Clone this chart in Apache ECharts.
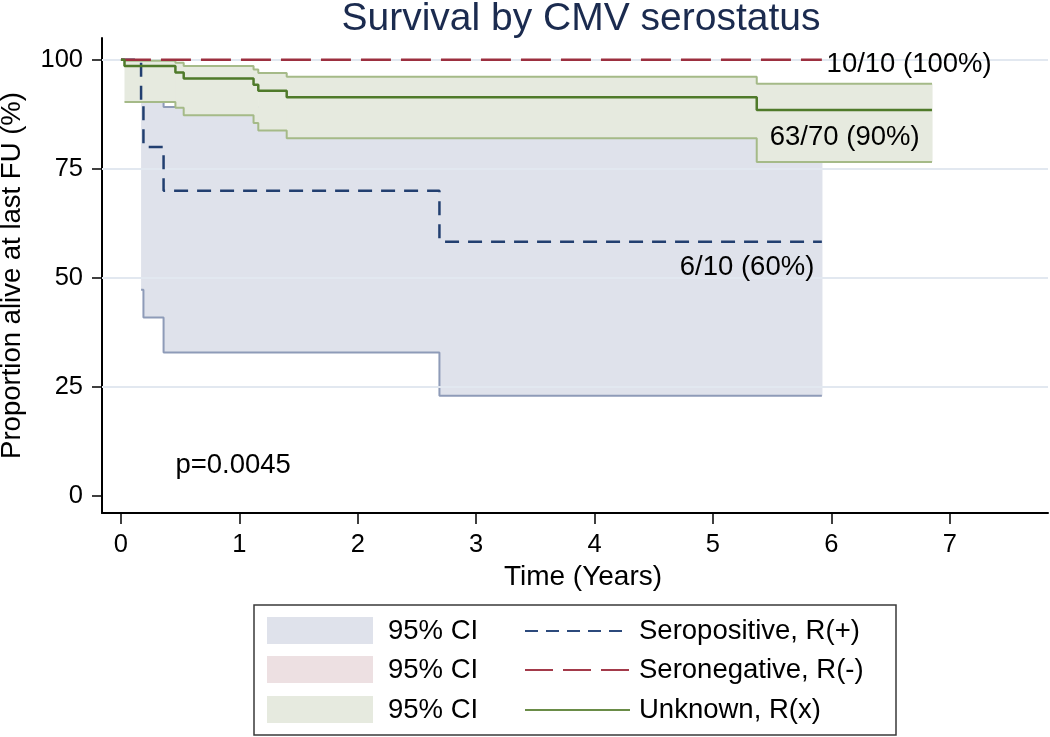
<!DOCTYPE html>
<html><head><meta charset="utf-8">
<script src="https://cdn.jsdelivr.net/npm/echarts@6/dist/echarts.min.js"></script>
<style>html,body{margin:0;padding:0;background:#fff}#c{width:1050px;height:737px}</style>
</head><body><div id="c"></div>
<script>
// ---------- data ----------
const titleText = 'Survival by CMV serostatus';
const xTicks = [0, 1, 2, 3, 4, 5, 6, 7];
const yTicks = [0, 25, 50, 75, 100];
const xAxisName = 'Time (Years)';
const yAxisName = 'Proportion alive at last FU (%)';

// Seropositive, R(+)
const posTime = [0, 0.17, 0.19, 0.36, 2.69, 5.92];
const posSurv = [100, 90, 80, 70, 58.3, 58.3];
const posCiTime = [0.17, 0.19, 0.36, 2.69, 5.92];
const posCiLow = [47.3, 40.9, 32.9, 23.0, 23.0];
const posCiHigh = [98.5, 94.6, 89.2, 84.0, 84.0];

// Seronegative, R(-)
const negTime = [0, 5.92];
const negSurv = [100, 100];

// Unknown, R(x)
const unkTime = [0, 0.03, 0.46, 0.53, 1.12, 1.16, 1.40, 5.37, 6.85];
const unkSurv = [100, 98.6, 97.1, 95.7, 94.3, 92.9, 91.4, 88.5, 88.5];
const unkCiTime = [0.03, 0.46, 0.53, 1.12, 1.16, 1.40, 5.37, 6.85];
const unkCiLow = [90.3, 89.0, 87.3, 85.5, 83.8, 82.0, 76.6, 76.6];
const unkCiHigh = [99.8, 99.3, 98.6, 97.8, 97.0, 96.1, 94.5, 94.5];

const seriesNames = ['Seropositive, R(+)', 'Seronegative, R(-)', 'Unknown, R(x)'];
const ciLabel = '95% CI';
const endLabels = ['6/10 (60%)', '10/10 (100%)', '63/70 (90%)'];
const pValueText = 'p=0.0045';

// ---------- styles ----------
const FONT = '"Liberation Sans", Arial, Helvetica, sans-serif';
const C = {
  pos: '#223f70', neg: '#9c2f3f', unk: '#4f7a2a',
  posFill: '#dfe2eb', posEdge: '#8e9bb8',
  negFill: '#ede0e2',
  unkFill: '#e6eadf', unkEdge: '#a5ba88',
  grid: '#e2e8f0'
};

function pairs(ts, vs) { return ts.map((t, i) => [t, vs[i]]); }

// CI band: filled step region (custom series, one rect per step) + step edge lines
function band(ts, lo, hi, fill, edge, z) {
  const segs = ts.slice(0, -1).map((t, i) => [t, ts[i + 1], lo[i], hi[i]]);
  return [
    { type: 'custom', silent: true, z: z,
      data: segs,
      renderItem: (params, api) => {
        const p0 = api.coord([api.value(0), api.value(3)]);
        const p1 = api.coord([api.value(1), api.value(2)]);
        return { type: 'rect',
          shape: { x: p0[0], y: p0[1], width: p1[0] - p0[0] + 0.6, height: p1[1] - p0[1] },
          style: { fill: fill } };
      } },
    { type: 'line', step: 'end', symbol: 'none', silent: true, z: z + 1,
      data: pairs(ts, lo), lineStyle: { color: edge, width: 2 } },
    { type: 'line', step: 'end', symbol: 'none', silent: true, z: z + 1,
      data: pairs(ts, hi), lineStyle: { color: edge, width: 2 } }
  ];
}

const chart = echarts.init(document.getElementById('c'), null, { renderer: 'canvas' });

// legend (graphic)
const LFS = 27.5;
const lg = { x: 254, y: 605, w: 642, h: 130 };
const rowY = [631, 670, 710];
const legendEls = [
  { type: 'rect', shape: { x: lg.x, y: lg.y, width: lg.w, height: lg.h },
    style: { fill: '#fff', stroke: '#3a3a3a', lineWidth: 1.5 } }
];
const fills = [C.posFill, C.negFill, C.unkFill];
const lineCols = ['#2c4a7c', '#a33a4a', '#6a8c48'];
const dashes = [[13, 8], [28, 10], null];
rowY.forEach((cy, i) => {
  legendEls.push({ type: 'rect', shape: { x: 267, y: cy - 14, width: 106, height: 27 }, style: { fill: fills[i] } });
  legendEls.push({ type: 'text', x: 388, y: cy, style: { text: ciLabel, font: LFS + 'px ' + FONT, fill: '#000', textVerticalAlign: 'middle' } });
  legendEls.push({ type: 'line', shape: { x1: 525, y1: cy, x2: 630, y2: cy },
    style: { stroke: lineCols[i], lineWidth: 2, lineDash: dashes[i] || null } });
  legendEls.push({ type: 'text', x: 639, y: cy, style: { text: seriesNames[i], font: LFS + 'px ' + FONT, fill: '#000', textVerticalAlign: 'middle' } });
});

const option = {
  animation: false,
  backgroundColor: '#fff',
  title: {
    text: titleText, left: 576, top: -5, textAlign: 'center',
    textStyle: { fontSize: 39, fontWeight: 'normal', color: '#1b2b4f', fontFamily: FONT }
  },
  grid: { left: 102, right: 2, top: 38, bottom: 224, containLabel: false, outerBoundsMode: 'none' },
  xAxis: {
    type: 'value', min: -0.16, max: 7.83,
    axisLine: { show: true, onZero: false, lineStyle: { color: '#000', width: 2 } },
    axisTick: { show: true, customValues: xTicks, length: 11, lineStyle: { color: '#000', width: 1.5 } },
    axisLabel: { customValues: xTicks, fontSize: 25.5, color: '#000', margin: 19, fontFamily: FONT },
    splitLine: { show: false },
    name: xAxisName, nameLocation: 'middle', nameGap: 42,
    nameTextStyle: { fontSize: 28, color: '#000', fontFamily: FONT, padding: [0, 0, 0, 16] }
  },
  yAxis: {
    type: 'value', min: -3.9, max: 105,
    axisLine: { show: true, onZero: false, lineStyle: { color: '#000', width: 2 } },
    axisTick: { show: true, customValues: yTicks, length: 10, lineStyle: { color: '#000', width: 1.5 } },
    axisLabel: { customValues: yTicks, fontSize: 25.5, color: '#000', margin: 19, fontFamily: FONT },
    splitLine: { show: false },
    name: yAxisName, nameLocation: 'middle', nameGap: 76, nameRotate: 90,
    nameTextStyle: { fontSize: 27.5, color: '#000', fontFamily: FONT }
  },
  graphic: legendEls,
  series: [
    { type: 'line', data: [[0, 100]], symbol: 'none', silent: true, z: 1,
      lineStyle: { opacity: 0 },
      markLine: { silent: true, symbol: 'none', label: { show: false },
        lineStyle: { color: C.grid, width: 2, type: 'solid' },
        data: yTicks.filter(v => v > 0).map(v => ({ yAxis: v })) } },
    ...band(posCiTime, posCiLow, posCiHigh, C.posFill, C.posEdge, 2),
    ...band(unkCiTime, unkCiLow, unkCiHigh, C.unkFill, C.unkEdge, 4),
    { name: seriesNames[0], type: 'line', step: 'end', symbol: 'none', z: 6,
      data: pairs(posTime, posSurv), lineStyle: { color: C.pos, width: 2.5, type: [14, 9] } },
    { name: seriesNames[1], type: 'line', step: 'end', symbol: 'none', z: 6,
      data: pairs(negTime, negSurv), lineStyle: { color: C.neg, width: 2.5, type: [30, 10] } },
    { name: seriesNames[2], type: 'line', step: 'end', symbol: 'none', z: 6,
      data: pairs(unkTime, unkSurv), lineStyle: { color: C.unk, width: 2.5 } },
    { type: 'scatter', symbolSize: 0, silent: true, z: 7,
      itemStyle: { opacity: 1 },
      label: { show: true, position: 'right', distance: 0, formatter: p => p.name,
        fontSize: 27.5, color: '#000', opacity: 1, fontFamily: FONT },
      data: [
        { name: endLabels[0], value: [4.72, 52.5] },
        { name: endLabels[1], value: [5.96, 98.9] },
        { name: endLabels[2], value: [5.48, 82.1] },
        { name: pValueText, value: [0.46, 6.9] }
      ] }
  ]
};
chart.setOption(option);
</script>
</body></html>
